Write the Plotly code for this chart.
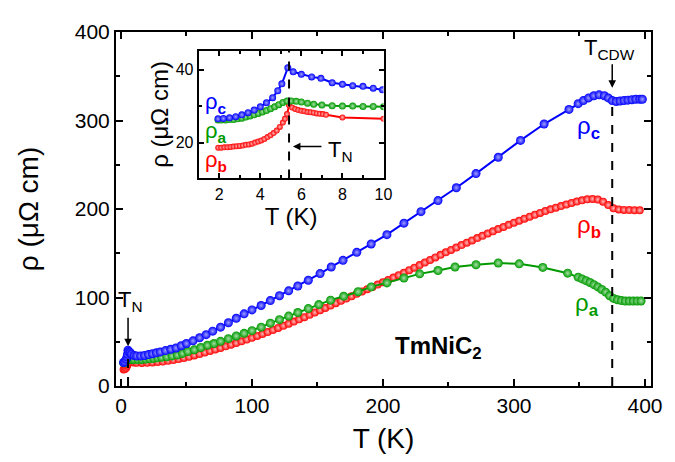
import plotly.graph_objects as go

# main panel: rho_c (blue), rho_a (green), rho_b (red) vs T
T_c = [2, 3, 4, 4.7, 5.0, 5.34, 6, 7, 8, 10,
       12, 15, 18, 21, 24, 27, 30, 34, 38, 42,
       46, 50, 55, 60, 65, 70, 76, 82, 88, 94,
       100, 107, 114, 121, 128, 135, 143, 152, 160.5, 169.5,
       180, 191, 203, 216, 229, 242, 256, 271, 288, 305,
       323, 342, 349, 353, 357, 361, 365, 369, 372, 375,
       378, 381, 384, 387, 390, 393, 396, 398]
rho_c = [26.5, 27.5, 30.3, 33, 36, 40.5, 38.7, 37.6, 36, 34.5,
         34, 34, 34.5, 35.5, 36.5, 37.5, 38.5, 40, 41.5, 43,
         45.5, 48, 51, 54.5, 58, 62, 66.5, 71.5, 76.5, 81.5,
         86, 91, 96.5, 102, 107.5, 113, 119.5, 127, 134.5, 142,
         151, 160.5, 171, 184, 197, 209.5, 224, 240, 258.5, 277.5,
         296, 312.5, 319, 322.5, 325.5, 328, 329, 328, 325.5, 322.5,
         321.5, 322, 322.5, 323, 323.5, 324, 324, 324]

T_a = [2, 3, 4, 4.7, 5.0, 5.34, 6, 7, 8, 10,
       13, 16, 19, 22, 25, 28, 31, 35, 39, 43,
       47, 51, 56, 61, 66, 71, 76, 82, 88, 94,
       100, 107, 114, 121, 128, 135, 143, 151, 160, 170,
       181, 191, 203, 216, 228, 242, 255, 271, 288, 304,
       322, 341, 349, 352, 355, 358, 361, 364, 367, 370,
       373, 376, 379, 382, 385, 388, 391, 394, 397]
rho_a = [26.2, 26.5, 28.4, 29.8, 30.6, 31.4, 31.1, 30.3, 30, 29.8,
         29.8, 30, 30.3, 30.7, 31.2, 31.8, 32.4, 33, 34, 35,
         36.8, 39, 41, 43.5, 46, 48, 50.5, 53.5, 56.5, 59.5,
         62.5, 66.5, 71, 75, 79, 83, 87.5, 92, 97, 101.5,
         106.5, 112, 116.5, 122, 126.7, 130.5, 134.5, 137, 139, 138,
         134, 127.5, 123, 121, 119, 117, 114.5, 112, 109, 106,
         102, 99, 97.5, 96.5, 96, 96, 96, 96, 96]

T_b = [2, 3, 4, 4.7, 5.0, 5.34, 6, 7, 8, 10,
       12, 16, 20, 24, 28, 32, 36, 40, 44, 48,
       52, 56, 60, 64, 68, 72, 76, 80, 84, 88,
       92, 96, 100, 104, 108, 112, 116, 120, 124, 128,
       132, 136, 140, 144, 148, 152, 156, 160, 164, 168,
       172, 176, 180, 184, 188, 192, 196, 200, 204, 208,
       212, 216, 220, 224, 228, 232, 236, 240, 244, 248,
       252, 256, 260, 264, 268, 272, 276, 280, 284, 288,
       292, 296, 300, 304, 308, 312, 316, 320, 324, 328,
       332, 336, 340, 344, 348, 352, 356, 360, 364, 368,
       372, 376, 380, 384, 388, 392, 396]
rho_b = [18.6, 19.1, 20.6, 23, 25, 28.5, 28.7, 27.8, 26.9, 26.5,
         26.2, 26.1, 26.2, 26.5, 27, 27.6, 28.4, 29.3, 30.4, 31.7,
         33.1, 34.6, 36.2, 37.9, 39.6, 41.3, 43, 44.8, 46.7, 48.6,
         50.5, 52.5, 54.5, 56.6, 58.8, 61, 63.3, 65.6, 68, 70.4,
         72.8, 75.3, 77.8, 80.4, 83, 85.6, 88.2, 90.9, 93.6, 96.3,
         98.8, 101.4, 104.1, 106.8, 109.4, 112, 114.6, 117.2, 119.8, 122.5,
         125.2, 128, 130.8, 133.7, 136.6, 139.5, 142.4, 145.3, 148.2, 151,
         153.8, 156.5, 159.2, 161.9, 164.5, 167.1, 169.7, 172.3, 174.8, 177.3,
         179.7, 182.1, 184.5, 186.8, 189.1, 191.3, 193.5, 195.6, 197.6, 199.6,
         201.5, 203.3, 205.1, 206.8, 208.4, 209.8, 210.9, 211.4, 210.7, 208.3,
         204.5, 200.8, 199.5, 199, 198.8, 198.6, 198.5]

# inset: low temperature region around T_N
Ti_c = [1.94, 2.2, 2.5, 2.8, 3.1, 3.4, 3.7, 4.0, 4.3, 4.6, 4.85, 5.05,
        5.34, 5.6, 6.0, 6.5, 6.95, 7.5, 8.0, 8.5, 9.0, 9.5, 9.95]
rhoi_c = [26.5, 26.6, 26.8, 27.1, 27.6, 28.2, 28.9, 29.8, 30.9, 32.3, 34.2, 36.1,
          40.5, 39.4, 38.7, 38.0, 37.6, 36.4, 36.0, 35.6, 35.4, 34.9, 34.5]

Ti_a = [1.94, 2.1, 2.3, 2.5, 2.7, 2.9, 3.1, 3.3, 3.5, 3.7,
        3.9, 4.1, 4.3, 4.5, 4.7, 4.9, 5.1, 5.3, 5.5, 5.75,
        6.0, 6.3, 6.6, 7.0, 7.5, 8.0, 8.5, 9.0, 9.5, 10.0]
rhoi_a = [26.2, 26.2, 26.2, 26.3, 26.3, 26.5, 26.7, 27.0, 27.3, 27.6,
          28.0, 28.4, 28.8, 29.3, 29.8, 30.4, 31.0, 31.4, 31.4, 31.3,
          31.1, 30.8, 30.5, 30.3, 30.1, 30.0, 30.0, 29.9, 29.9, 29.8]

Ti_b = [1.95, 2.1, 2.25, 2.4, 2.55, 2.7, 2.85, 3.0, 3.15, 3.3,
        3.45, 3.6, 3.75, 3.9, 4.05, 4.2, 4.35, 4.5, 4.65, 4.8,
        4.95, 5.1, 5.2, 5.3, 5.4, 5.55, 5.7, 5.85, 6.0, 6.15,
        6.3, 6.45, 6.6, 6.75, 6.9, 7.05, 7.2, 8.0, 10.0]
rhoi_b = [18.6, 18.6, 18.7, 18.7, 18.8, 18.9, 19.0, 19.1, 19.2, 19.4,
          19.5, 19.7, 20.0, 20.3, 20.6, 21.0, 21.5, 22.0, 22.6, 23.3,
          24.3, 25.5, 26.5, 27.8, 30.2, 29.6, 29.2, 28.9, 28.7, 28.6,
          28.4, 28.3, 28.2, 28.0, 27.9, 27.8, 27.6, 26.9, 26.5]

T_N = 5.4
T_CDW = 375

BLUE = "#0000ff"
GREEN = "#009a00"
RED = "#ff0000"
FONT = "Arial, 'Liberation Sans', sans-serif"


def series(x, y, color, center, size, xa="x", ya="y"):
    return go.Scatter(
        x=x, y=y, mode="lines+markers", xaxis=xa, yaxis=ya,
        line=dict(color=color, width=2),
        marker=dict(size=size, color=color, line=dict(width=0),
                    gradient=dict(type="radial", color=center)),
        showlegend=False,
    )


fig = go.Figure()
fig.add_trace(series(T_b, rho_b, RED, "#ffbcbc", 8))
fig.add_trace(series(T_a, rho_a, GREEN, "#a8e0a8", 9))
fig.add_trace(series(T_c, rho_c, BLUE, "#a0a0ff", 9))

fig.add_trace(series(Ti_b, rhoi_b, RED, "#ffbcbc", 6, "x2", "y2"))
fig.add_trace(series(Ti_a, rhoi_a, GREEN, "#a8e0a8", 7, "x2", "y2"))
fig.add_trace(series(Ti_c, rhoi_c, BLUE, "#a0a0ff", 7, "x2", "y2"))

axis_common = dict(
    showline=True, linecolor="black", linewidth=2, mirror="allticks",
    ticks="inside", tickcolor="black", tickwidth=1.5, showgrid=False,
    zeroline=False,
)

fig.update_layout(
    width=675, height=462,
    margin=dict(l=108, r=32, t=16, b=84),
    paper_bgcolor="white", plot_bgcolor="white",
    font=dict(family=FONT, color="black"),
    xaxis=dict(range=[-3.8, 404.6], dtick=100, ticklen=7,
               minor=dict(dtick=50, ticklen=4, ticks="inside", tickcolor="black"),
               tickfont=dict(size=21),
               title=dict(text="T (K)", font=dict(size=28), standoff=12),
               **axis_common),
    yaxis=dict(range=[0, 400], dtick=100, ticklen=7,
               minor=dict(dtick=50, ticklen=4, ticks="inside", tickcolor="black"),
               tickfont=dict(size=21),
               title=dict(text="ρ (μΩ cm)", font=dict(size=28), standoff=28),
               **axis_common),
    xaxis2=dict(domain=[0.1546, 0.5], anchor="y2", range=[1, 10], dtick=2,
                tick0=0, ticklen=5,
                minor=dict(dtick=1, ticklen=3, ticks="inside", tickcolor="black"),
                tickfont=dict(size=16),
                title=dict(text="T (K)", font=dict(size=24), standoff=2),
                **axis_common),
    yaxis2=dict(domain=[0.5865, 0.9475], anchor="x2", range=[10.2, 45.2],
                tickvals=[20, 40], ticklen=5,
                minor=dict(tickvals=[10, 30], ticklen=3, ticks="inside",
                           tickcolor="black"),
                tickfont=dict(size=16),
                title=dict(text="ρ (μΩ cm)", font=dict(size=24), standoff=0),
                **axis_common),
)

# dashed markers of the transitions
fig.add_shape(type="line", xref="x", yref="y", x0=T_CDW, x1=T_CDW, y0=0, y1=320,
              line=dict(color="black", width=2, dash="dash"))
fig.add_shape(type="line", xref="x", yref="y", x0=T_N, x1=T_N, y0=0, y1=36,
              line=dict(color="black", width=2, dash="dash"))
fig.add_shape(type="line", xref="x2", yref="y2", x0=T_N, x1=T_N, y0=10.2, y1=45.2,
              line=dict(color="black", width=2, dash="dash"))

arrow = dict(showarrow=True, arrowhead=2, arrowsize=1, arrowwidth=1.5,
             arrowcolor="black", text="")
fig.add_annotation(x=T_CDW, y=337, xref="x", yref="y", ax=0, ay=-25, **arrow)
fig.add_annotation(x=T_N, y=45, xref="x", yref="y", ax=0, ay=-30, **arrow)
fig.add_annotation(x=5.59, y=18.9, xref="x2", yref="y2", ax=30, ay=0, **arrow)

labels = [
    ("T<sub>CDW</sub>", 373, 381, "x", "y", "black", 22),
    ("T<sub>N</sub>", 7, 96, "x", "y", "black", 22),
    ("T<sub>N</sub>", 7.9, 17.6, "x2", "y2", "black", 22),
    ("<b>TmNiC<sub>2</sub></b>", 242, 44, "x", "y", "black", 24),
    ("ρ<sub><b>c</b></sub>", 357, 292, "x", "y", BLUE, 24),
    ("ρ<sub><b>b</b></sub>", 357, 180, "x", "y", RED, 24),
    ("ρ<sub><b>a</b></sub>", 356, 92, "x", "y", GREEN, 24),
    ("ρ<sub><b>c</b></sub>", 1.84, 30.8, "x2", "y2", BLUE, 22),
    ("ρ<sub><b>a</b></sub>", 1.86, 22.8, "x2", "y2", GREEN, 22),
    ("ρ<sub><b>b</b></sub>", 1.86, 15.0, "x2", "y2", RED, 22),
]
for text, x, y, xr, yr, color, size in labels:
    fig.add_annotation(x=x, y=y, xref=xr, yref=yr, text=text, showarrow=False,
                       font=dict(size=size, color=color, family=FONT))

fig.write_html("out.html")
